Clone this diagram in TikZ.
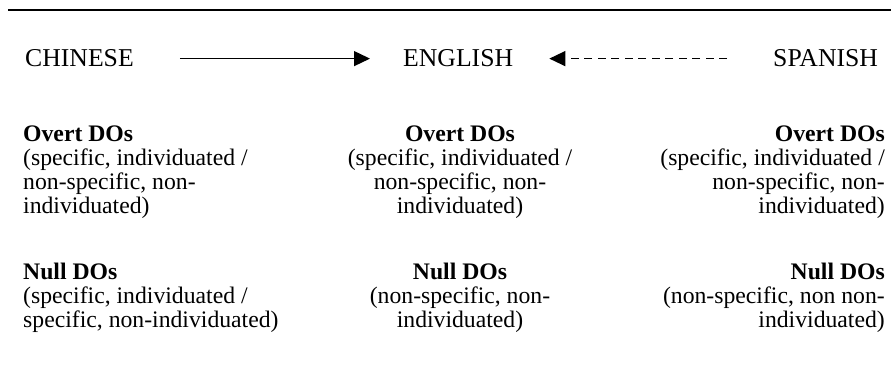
\documentclass[tikz,border=0pt]{standalone}
\usepackage{fontspec}
\setmainfont{Liberation Serif}
\usetikzlibrary{arrows.meta}
\tikzset{
  lang/.style={inner sep=0pt, anchor=base west, font=\fontsize{25.7}{28}\selectfont},
  col/.style={inner sep=0pt, font=\fontsize{23.7}{24}\selectfont},
  link/.style={line width=1.3pt, -{Triangle[length=16pt,width=15pt]}},
}
\begin{document}
\begin{tikzpicture}[x=1pt,y=-1pt]
\useasboundingbox (0,0) rectangle (891,377);
\coordinate (ruleL) at (8,10);
\coordinate (ruleR) at (891,10);
\draw[line width=2pt] (ruleL) -- (ruleR);

\node[lang] (chinese) at (25,67) {CHINESE};
\node[lang] (english) at (403,67) {ENGLISH};
\node[lang] (spanish) at (773,67) {SPANISH};

\draw[link, shorten <=46pt, shorten >=33pt] (chinese.east) -- (english.west);
\draw[link, dash pattern=on 8pt off 5.5pt, shorten <=46pt, shorten >=36pt] (spanish.west) -- (english.east);

% Overt row (base anchor = baseline of last line)
\node[col, anchor=base west, align=left] (ovL) at (23,213)
  {\textbf{Overt DOs}\\(specific, individuated /\\non-specific, non-\\individuated)};
\node[col, anchor=base, align=center] (ovM) at (460,213)
  {\textbf{Overt DOs}\\(specific, individuated /\\non-specific, non-\\individuated)};
\node[col, anchor=base east, align=right] (ovR) at (885,213)
  {\textbf{Overt DOs}\\(specific, individuated /\\non-specific, non-\\individuated)};

% Null row
\node[col, anchor=base west, align=left] (nuL) at (23,327)
  {\textbf{Null DOs}\\(specific, individuated /\\specific, non-individuated)};
\node[col, anchor=base, align=center] (nuM) at (460,327)
  {\textbf{Null DOs}\\(non-specific, non-\\individuated)};
\node[col, anchor=base east, align=right] (nuR) at (885,327)
  {\textbf{Null DOs}\\(non-specific, non non-\\individuated)};
\end{tikzpicture}
\end{document}
